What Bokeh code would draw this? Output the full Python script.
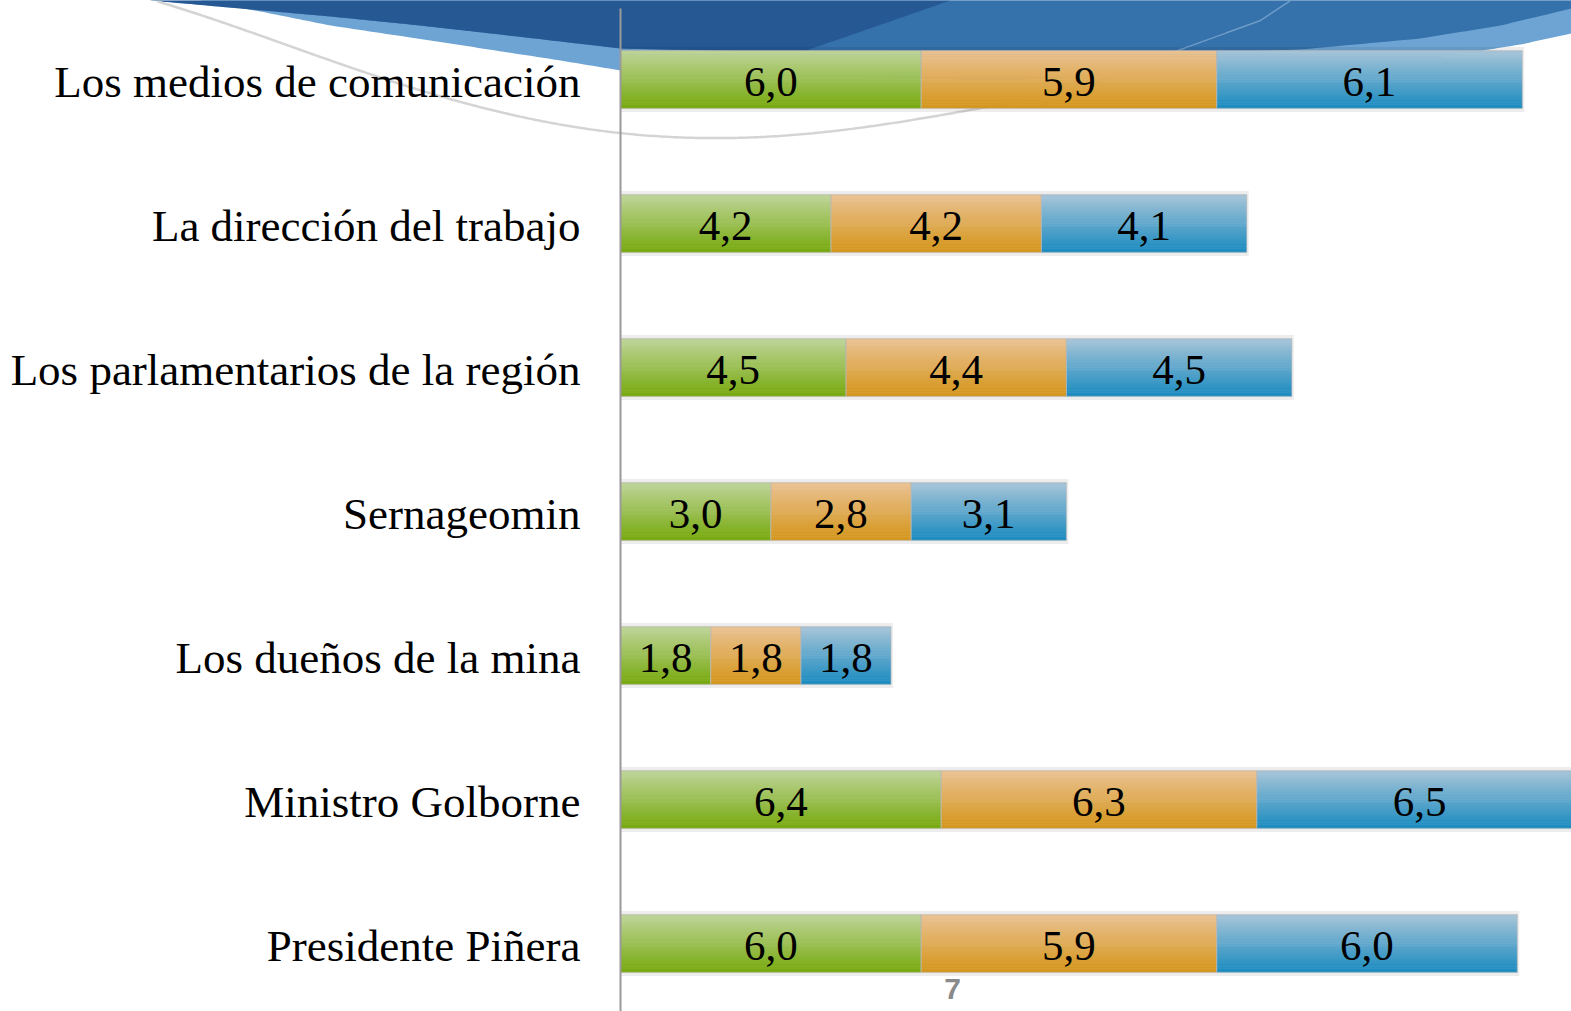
import numpy as np
from bokeh.plotting import figure
from bokeh.models import Range1d, Label, ColumnDataSource
from bokeh.core.properties import value
from bokeh.embed import file_html
from bokeh.resources import INLINE

# ---------------- data ----------------
categories = [
    "Los medios de comunicación",
    "La dirección del trabajo",
    "Los parlamentarios de la región",
    "Sernageomin",
    "Los dueños de la mina",
    "Ministro Golborne",
    "Presidente Piñera",
]
serie_verde = [6.0, 4.2, 4.5, 3.0, 1.8, 6.4, 6.0]
serie_naranja = [5.9, 4.2, 4.4, 2.8, 1.8, 6.3, 5.9]
serie_azul = [6.1, 4.1, 4.5, 3.1, 1.8, 6.5, 6.0]
page_number = "7"

# ---------------- layout ----------------
W, H = 1571, 1011
X0_PX = 620.0          # canvas pixel of value 0
PX_PER_UNIT = 50.1
ROW_TOP_PX = 79.0
ROW_STEP_PX = 144.0
n = len(categories)
x_start = -X0_PX / PX_PER_UNIT
x_end = (W - X0_PX) / PX_PER_UNIT
y_top = (n - 1) + ROW_TOP_PX / ROW_STEP_PX
y_bottom = y_top - H / ROW_STEP_PX


def dx(px):
    return (px - X0_PX) / PX_PER_UNIT


def dy(py):
    return y_top - py / ROW_STEP_PX


p = figure(width=W, height=H, x_range=Range1d(x_start, x_end),
           y_range=Range1d(y_bottom, y_top), output_backend="svg",
           toolbar_location=None, x_axis_location=None, y_axis_location=None,
           min_border=0, min_border_left=0, min_border_right=0,
           min_border_top=0, min_border_bottom=0, outline_line_color=None,
           background_fill_color="white", border_fill_color="white")
p.grid.visible = False

# ---------------- background decoration (slide swoosh) ----------------
def smooth(pts, num=160):
    pts = np.array(pts, dtype=float)
    t = np.linspace(0, 1, len(pts))
    tt = np.linspace(0, 1, num)
    return np.interp(tt, t, pts[:, 0]), np.interp(tt, t, pts[:, 1])

dark_lower = [(150, 0), (240, 8), (330, 16), (410, 24), (482, 32), (560, 41), (620, 48),
              (900, 54), (1150, 54), (1300, 49), (1420, 38), (1500, 25), (1571, 8)]
light_lower = [(200, 0), (265, 12), (330, 25), (410, 37), (482, 48), (560, 60), (620, 70),
               (1000, 80), (1400, 62), (1470, 52), (1520, 44), (1571, 33)]
lx, ly = smooth(light_lower)
xs = [dx(v) for v in list(lx) + [1590, 1590, 190]]
ys = [dy(v) for v in list(ly) + [33, -10, -10]]
p.patch(xs, ys, fill_color="#6ea4d3", line_color=None)
dkx, dky = smooth(dark_lower)
xs = [dx(v) for v in list(dkx) + [1590, 1590, 150]]
ys = [dy(v) for v in list(dky) + [8, -10, -10]]
p.patch(xs, ys, fill_color="#3571aa", line_color=None)
left_dark = [(150, 0), (240, 8), (330, 16), (410, 24), (482, 32), (560, 41), (620, 48),
             (800, 52), (950, 0)]
ldx, ldy = smooth(left_dark)
p.patch([dx(v) for v in ldx], [dy(v) for v in ldy], fill_color="#1f4c88",
        line_color=None, fill_alpha=0.65)
arc = np.array([(157, 0), (240, 30), (330, 60), (410, 86), (482, 107), (560, 122), (620, 133),
                (700, 140), (800, 134), (900, 120), (1000, 104), (1100, 88)], dtype=float)
coef = np.polyfit(arc[:, 0], arc[:, 1], 4)
arc_x = np.linspace(157, 1100, 300)
arc_y = np.polyval(coef, arc_x)
p.line([dx(v) for v in arc_x], [dy(v) for v in arc_y], line_color="#d4d4d4", line_width=2.5)
hl = [(1040, 104), (1150, 60), (1260, 20), (1290, 0)]
hx, hy = smooth(hl)
p.line([dx(v) for v in hx], [dy(v) for v in hy], line_color="#6d9cc8", line_width=1.5)

# ---------------- bars ----------------
BAR_H = 0.40
series = [serie_verde, serie_naranja, serie_azul]
tops = [(190, 212, 152), (234, 194, 146), (166, 196, 216)]
bottoms = [(120, 170, 16), (212, 150, 28), (28, 140, 192)]
N = 30

y_pos = [n - 1 - i for i in range(n)]
totals = [sum(s[i] for s in series) for i in range(n)]

# shadow
p.hbar(y=y_pos, left=0, right=[t + 0.04 for t in totals],
       height=BAR_H + 0.05, fill_color="#000000", fill_alpha=0.07, line_color=None)

sy, sl, sr, sh, sc = [], [], [], [], []
for i in range(n):
    left = 0.0
    for s_idx, s in enumerate(series):
        right = left + s[i]
        for k in range(N):
            f = k / (N - 1)
            c = tuple(int(round(tops[s_idx][j] + (bottoms[s_idx][j] - tops[s_idx][j]) * f)) for j in range(3))
            sy.append(y_pos[i] + BAR_H / 2 - (k + 0.5) * BAR_H / N)
            sl.append(left)
            sr.append(right)
            sh.append(BAR_H / N * 1.3)
            sc.append("#%02x%02x%02x" % c)
        left = right
p.hbar(y="y", left="l", right="r", height="h", fill_color="c", line_color=None,
       source=ColumnDataSource(dict(y=sy, l=sl, r=sr, h=sh, c=sc)))

# segment outlines and value labels
oy, ol, orr, tx, ty, tt = [], [], [], [], [], []
for i in range(n):
    left = 0.0
    for s in series:
        right = left + s[i]
        oy.append(y_pos[i]); ol.append(left); orr.append(right)
        tx.append((left + right) / 2); ty.append(y_pos[i] - 0.02)
        tt.append(("%.1f" % s[i]).replace(".", ","))
        left = right
p.hbar(y=oy, left=ol, right=orr, height=BAR_H, fill_color=None,
       line_color="#b8b8b8", line_alpha=0.6, line_width=1)
p.text(x=tx, y=ty, text=tt, text_align="center", text_baseline="middle",
       text_font=value("Liberation Serif"), text_font_size="43px", text_color="#000000")

# category labels
p.text(x=[-0.8] * n, y=[y - 0.02 for y in y_pos], text=categories, text_align="right",
       text_baseline="middle", text_font=value("Liberation Serif"),
       text_font_size="45px", text_color="#000000")

# axis line (category axis at value 0)
p.segment(x0=[0], y0=[dy(8)], x1=[0], y1=[y_bottom], line_color="#9a9a9a", line_width=2)

# page number
p.add_layout(Label(x=dx(952), y=dy(988), text=page_number, text_align="center",
                   text_baseline="middle", text_font="Liberation Sans",
                   text_font_style="bold", text_font_size="30px", text_color="#8a8a8a"))

open("out.html", "w").write(file_html(p, INLINE))
